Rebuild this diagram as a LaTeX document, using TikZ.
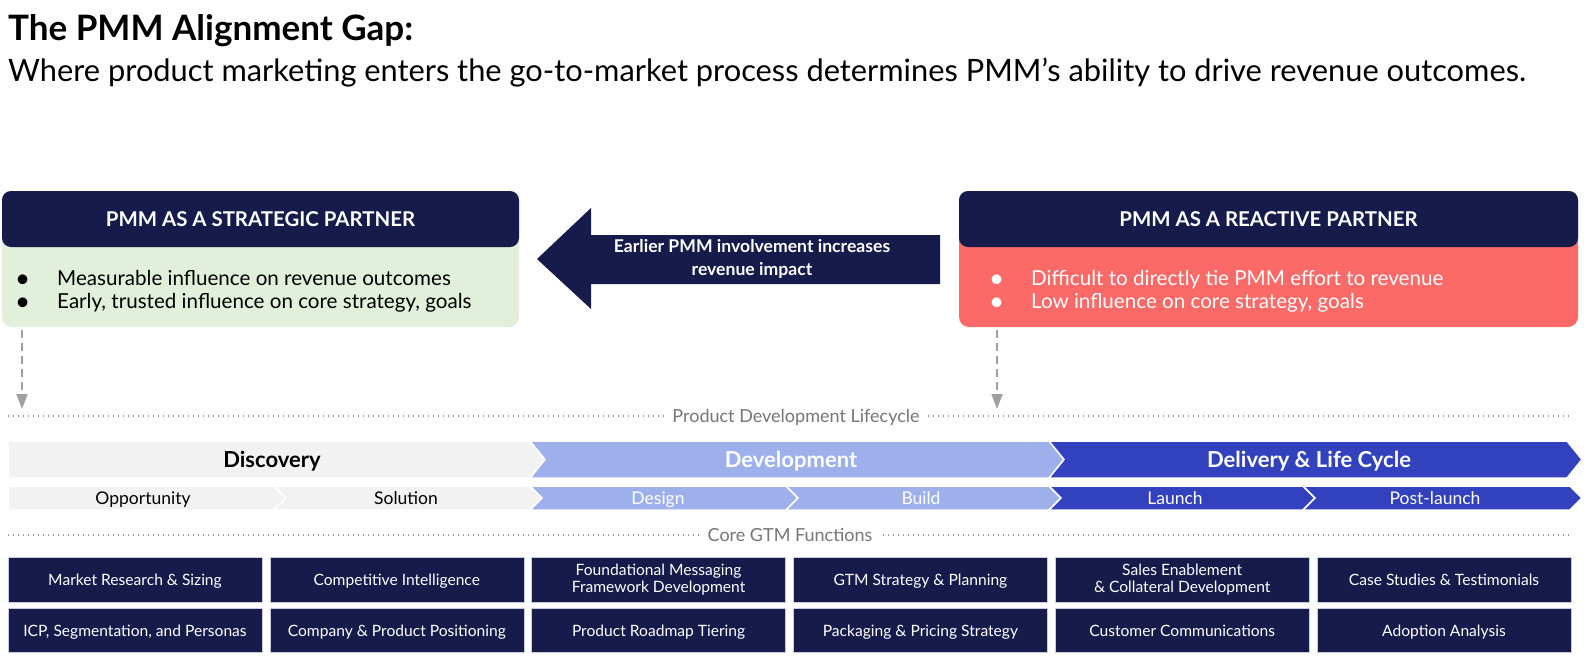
\documentclass[tikz,border=0pt]{standalone}
\usepackage{fontspec}
\setmainfont{Lato}
\usetikzlibrary{arrows.meta}
\definecolor{gapnavy}{RGB}{22,27,76}
\definecolor{gapgreen}{RGB}{226,239,218}
\definecolor{gapsalmon}{RGB}{252,106,104}
\definecolor{gapgray}{RGB}{242,242,242}
\definecolor{gaplight}{RGB}{157,176,236}
\definecolor{gaproyal}{RGB}{50,66,190}
\definecolor{gapdots}{RGB}{150,150,150}
\definecolor{gaplabel}{RGB}{118,118,118}
\definecolor{gapdash}{RGB}{160,160,160}
\definecolor{gapedge}{RGB}{200,203,220}
% chevron band: colour, x1, x2, y top, y bottom, notch depth, point depth
\newcommand{\phasechev}[7]{%
	\fill[#1, draw=white, line width=1.5pt] (#2,#4) -- (#3,#4) -- ({#3+#7},{(#4+#5)/2}) -- (#3,#5) -- (#2,#5) -- ({#2+#6},{(#4+#5)/2}) -- cycle;}
\newcommand{\bulletrow}[1]{\makebox[42pt][l]{\raisebox{-2pt}{\fontsize{26}{26}\selectfont\textbullet}}#1}
\newcommand{\boxtop}[1]{\rule{0pt}{#1}}
\newcommand{\boxbottom}{\rule[-4pt]{0pt}{4pt}}
\tikzset{
	headbox/.style={fill=gapnavy, rounded corners=9pt, minimum height=56pt, text=white, text height=14.7pt, text depth=0pt, font=\bfseries\fontsize{20.4}{24}\selectfont},
	bodybox/.style={rounded corners=10pt, minimum height=136pt},
	pointtext/.style={anchor=base west, inner sep=0pt, font=\fontsize{20.6}{24}\selectfont},
	gtmbox/.style={fill=gapnavy, draw=gapedge, line width=0.6pt, minimum width=254pt, minimum height=44.5pt, text=white, align=center, inner sep=0pt, execute at begin node={\boxtop{15.2pt}}, execute at end node={\boxbottom}, font=\fontsize{15.6}{16.5}\selectfont},
	phaselabel/.style={inner sep=0pt, text height=15.8pt, text depth=0pt, font=\bfseries\fontsize{22}{26}\selectfont},
	steplabel/.style={inner sep=0pt, text height=12.6pt, text depth=0pt, font=\fontsize{17.5}{20}\selectfont},
	dotline/.style={gapdots, line width=1.4pt, dash pattern=on 1.4pt off 3.6pt},
	linelabel/.style={fill=white, text=gaplabel, inner xsep=7pt, text height=13pt, text depth=0pt, font=\fontsize{18}{20}\selectfont},
	droparrow/.style={gapdash, line width=1.6pt, dash pattern=on 8pt off 5pt, -{Triangle[length=15pt, width=11pt]}},
}
\begin{document}
\begin{tikzpicture}[x=1pt, y=-1pt]
	\useasboundingbox (0,0) rectangle (1590,665);
	% Title:
	\node[anchor=base west, inner sep=0pt, font=\bfseries\fontsize{35}{40}\selectfont] (title) at (8,40) {The PMM Alignment Gap:};
	\node[anchor=base west, inner sep=0pt, font=\fontsize{30.8}{36}\selectfont] (subtitle) at (8,81) {Where product marketing enters the go-to-market process determines PMM’s ability to drive revenue outcomes.};
	% Partner boxes:
	\node[bodybox, fill=gapgreen, minimum width=517pt] (strat) at (260.5,259) {};
	\node[headbox, minimum width=517pt] (strathead) at (260.5,219) {PMM AS A STRATEGIC PARTNER};
	\node[pointtext] (stratpt1) at (15,285) {\bulletrow{Measurable influence on revenue outcomes}};
	\node[pointtext] (stratpt2) at (15,308) {\bulletrow{Early, trusted influence on core strategy, goals}};
	\node[bodybox, fill=gapsalmon, minimum width=619pt] (react) at (1268.5,259) {};
	\node[headbox, minimum width=619pt] (reacthead) at (1268.5,219) {PMM AS A REACTIVE PARTNER};
	\node[pointtext, text=white] (reactpt1) at (989,285) {\bulletrow{Difficult to directly tie PMM effort to revenue}};
	\node[pointtext, text=white] (reactpt2) at (989,308) {\bulletrow{Low influence on core strategy, goals}};
	% Big arrow:
	\fill[gapnavy] (940,235) -- (591,235) -- (591,208) -- (537,259) -- (591,309) -- (591,284) -- (940,284) -- cycle;
	\node[text=white, align=center, inner sep=0pt, execute at begin node={\boxtop{16.7pt}}, execute at end node={\boxbottom}, font=\bfseries\fontsize{17.6}{23.5}\selectfont] (earlier) at (752,259.5) {Earlier PMM involvement increases\\revenue impact};
	% Drop arrows:
	\coordinate (stratdrop) at (22,409);
	\coordinate (reactdrop) at (997,409);
	\draw[droparrow] ([yshift=-3pt]strat.south -| stratdrop) -- (stratdrop);
	\draw[droparrow] ([yshift=-3pt]react.south -| reactdrop) -- (reactdrop);
	% Lifecycle:
	\draw[dotline] (8,416) -- (1570,416);
	\node[linelabel] (pdl) at (796,416) {Product Development Lifecycle};
	\phasechev{gapgray}{8}{530}{441}{478}{0}{15}
	\phasechev{gaplight}{530}{1049}{441}{478}{15}{15}
	\phasechev{gaproyal}{1049}{1567}{441}{478}{15}{15}
	\node[phaselabel, text=black] (discovery) at (272,459.5) {Discovery};
	\node[phaselabel, text=white] (development) at (791,459.5) {Development};
	\node[phaselabel, text=white] (delivery) at (1309,459.5) {Delivery \& Life Cycle};
	\phasechev{gapgray}{8}{274}{486}{510}{0}{12}
	\phasechev{gapgray}{274}{530}{486}{510}{12}{12}
	\phasechev{gaplight}{530}{786}{486}{510}{12}{12}
	\phasechev{gaplight}{786}{1049}{486}{510}{12}{12}
	\phasechev{gaproyal}{1049}{1303}{486}{510}{12}{12}
	\phasechev{gaproyal}{1303}{1570}{486}{510}{12}{12}
	\node[steplabel, text=black] (opportunity) at (143,498) {Opportunity};
	\node[steplabel, text=black] (solution) at (406,498) {Solution};
	\node[steplabel, text=white] (design) at (658,498) {Design};
	\node[steplabel, text=white] (build) at (921,498) {Build};
	\node[steplabel, text=white] (launch) at (1175,498) {Launch};
	\node[steplabel, text=white] (postlaunch) at (1435,498) {Post-launch};
	% GTM functions:
	\draw[dotline] (8,535) -- (1570,535);
	\node[linelabel] (cgf) at (790,535) {Core GTM Functions};
	\node[gtmbox] (mrs) at (135,580) {Market Research \& Sizing};
	\node[gtmbox] (ci) at (396.8,580) {Competitive Intelligence};
	\node[gtmbox] (fmf) at (658.6,580) {Foundational Messaging\\Framework Development};
	\node[gtmbox] (gsp) at (920.4,580) {GTM Strategy \& Planning};
	\node[gtmbox] (sec) at (1182.2,580) {Sales Enablement\\\& Collateral Development};
	\node[gtmbox] (cst) at (1444,580) {Case Studies \& Testimonials};
	\node[gtmbox] (icp) at (135,630.5) {ICP, Segmentation, and Personas};
	\node[gtmbox] (cpp) at (396.8,630.5) {Company \& Product Positioning};
	\node[gtmbox] (prt) at (658.6,630.5) {Product Roadmap Tiering};
	\node[gtmbox] (pps) at (920.4,630.5) {Packaging \& Pricing Strategy};
	\node[gtmbox] (ccm) at (1182.2,630.5) {Customer Communications};
	\node[gtmbox] (aan) at (1444,630.5) {Adoption Analysis};
\end{tikzpicture}
\end{document}
